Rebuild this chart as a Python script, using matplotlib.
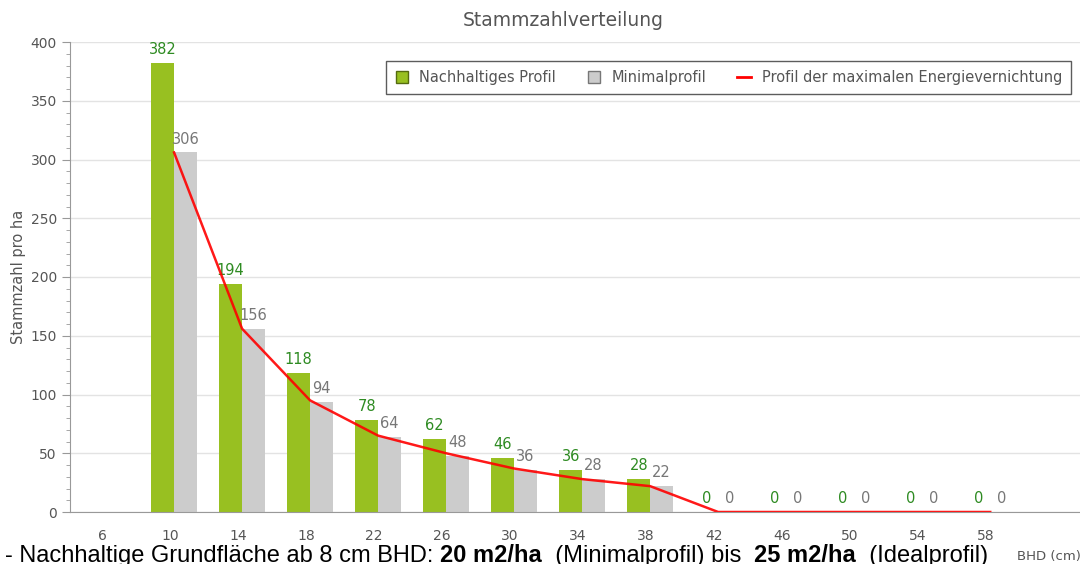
import matplotlib
matplotlib.use('Agg')
from matplotlib import pyplot as plt
from matplotlib.lines import Line2D
from matplotlib.ticker import MultipleLocator
import numpy as np

# BHD classes (cm)
categories = [6, 10, 14, 18, 22, 26, 30, 34, 38, 42, 46, 50, 54, 58]
# None = no bar / no label for that class
nachhaltig = [None, 382, 194, 118, 78, 62, 46, 36, 28, 0, 0, 0, 0, 0]
minimal = [None, 306, 156, 94, 64, 48, 36, 28, 22, 0, 0, 0, 0, 0]
energie = [None, 306, 156, 95, 65, 50, 37, 28, 22, 0, 0, 0, 0, 0]

GREEN = '#98c021'
GREEN_TXT = '#2e8b22'
GRAY = '#cccccc'
GRAY_TXT = '#777777'
AXIS_TXT = '#555555'

plt.rcParams['font.family'] = 'DejaVu Sans'

fig = plt.figure(figsize=(10.8, 5.64), dpi=100)
ax = fig.add_axes([70 / 1080, 1 - 512 / 564, 1 - 70 / 1080, (512 - 42) / 564])

x = np.arange(len(categories))
w = 0.335

for i in x:
    if nachhaltig[i] is not None:
        ax.bar(i - w / 2 - 0.005, nachhaltig[i], width=w, color=GREEN, zorder=2)
        ax.text(i - w / 2, nachhaltig[i] + 5, str(nachhaltig[i]), color=GREEN_TXT,
                ha='center', va='bottom', fontsize=10.5)
    if minimal[i] is not None:
        ax.bar(i + w / 2 + 0.005, minimal[i], width=w, color=GRAY, zorder=2)
        ax.text(i + w / 2, minimal[i] + 5, str(minimal[i]), color=GRAY_TXT,
                ha='center', va='bottom', fontsize=10.5)

line_x = [i for i in x if energie[i] is not None]
line_y = [energie[i] for i in line_x]
ax.plot(line_x, line_y, color='#ff0000', lw=1.8, zorder=3, alpha=0.9)

ax.set_xlim(-0.53, 14.32)
ax.set_ylim(0, 400)
ax.set_xticks(x - 0.06)
ax.set_xticklabels([str(c) for c in categories])
ax.tick_params(axis='x', length=0, pad=12, colors=AXIS_TXT, labelsize=10)
ax.yaxis.set_major_locator(MultipleLocator(50))
ax.yaxis.set_minor_locator(MultipleLocator(10))
ax.tick_params(axis='y', which='major', length=6, color='#999999', colors=AXIS_TXT, labelsize=10)
ax.tick_params(axis='y', which='minor', length=3, color='#999999')
ax.grid(axis='y', color='#e3e3e3', lw=1, zorder=0)
ax.set_axisbelow(True)

for s in ['top', 'right']:
    ax.spines[s].set_visible(False)
ax.spines['left'].set_color('#999999')
ax.spines['bottom'].set_color('#999999')

ax.set_ylabel('Stammzahl pro ha', color=AXIS_TXT, fontsize=10.5, labelpad=3)
fig.text(563 / 1080, 1 - 20 / 564, 'Stammzahlverteilung', ha='center', va='center',
         color='#555555', fontsize=13.5)

handles = [
    Line2D([], [], marker='s', ls='', markerfacecolor=GREEN, markeredgecolor='#556b10',
           markersize=8),
    Line2D([], [], marker='s', ls='', markerfacecolor=GRAY, markeredgecolor='#777777',
           markersize=8),
    Line2D([], [], color='#ff0000', lw=2),
]
labels = ['Nachhaltiges Profil', 'Minimalprofil', 'Profil der maximalen Energievernichtung']
leg = fig.legend(handles, labels, loc='upper right', bbox_to_anchor=(1078 / 1080, 1 - 54 / 564),
                 ncol=3, frameon=True, fancybox=False, fontsize=10.5, handlelength=1.0,
                 handletextpad=0.7, columnspacing=2.1, borderpad=0.6, labelcolor=AXIS_TXT)
leg.get_frame().set_edgecolor('#333333')
leg.get_frame().set_linewidth(1)

fig.text(1017 / 1080, 1 - 560 / 564, 'BHD (cm)', ha='left', va='baseline',
         color=AXIS_TXT, fontsize=9.5)

# note below the chart
fy = 1 - 562 / 564
parts = [('- Nachhaltige Grundfläche ab 8 cm BHD: ', 'normal'), ('20 m2/ha', 'bold'),
         ('  (Minimalprofil) bis  ', 'normal'), ('25 m2/ha', 'bold'), ('  (Idealprofil)', 'normal')]
renderer = fig.canvas.get_renderer()
xpos = 5 / 1080
for txt, wt in parts:
    t = fig.text(xpos, fy, txt, ha='left', va='baseline', fontsize=17,
                 family='Liberation Sans', weight=wt, color='black')
    bb = t.get_window_extent(renderer=renderer)
    xpos += bb.width / fig.bbox.width

fig.savefig('out.png', dpi=100)
